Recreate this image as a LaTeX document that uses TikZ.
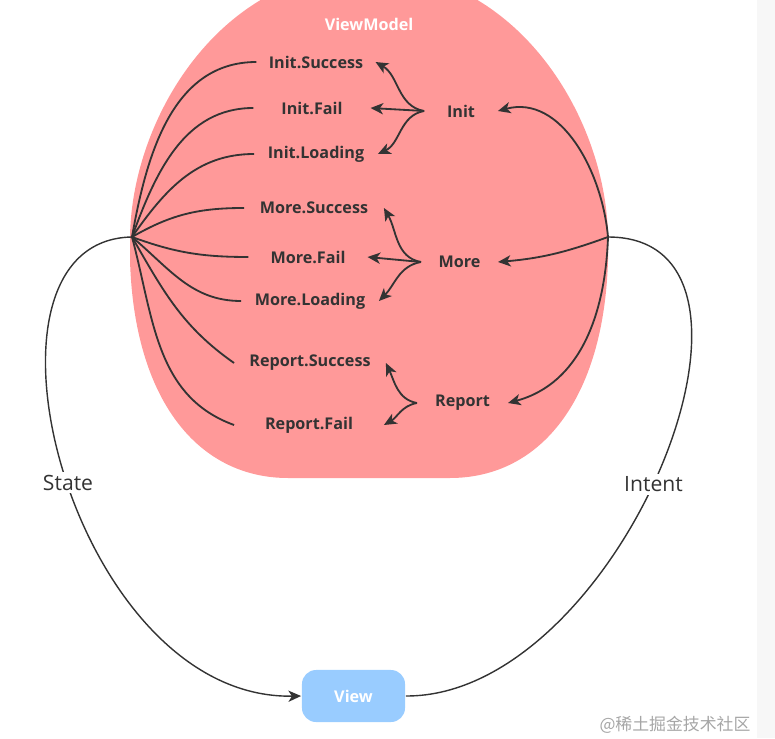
\documentclass[tikz,border=0pt]{standalone}
\usepackage{fontspec}
\setmainfont{Open Sans}
\newfontfamily\cjk{Noto Sans CJK SC}
\usetikzlibrary{arrows.meta}
\definecolor{cpink}{HTML}{FF9999}
\definecolor{cblue}{HTML}{99CCFF}
\definecolor{cline}{HTML}{333333}
\tikzset{
  every picture/.style={x=0.025cm, y=0.025cm, line width=1.3pt},
  evt/.style={minimum width=#1, inner sep=0pt, text=cline, font=\fontsize{11.5}{13}\selectfont\bfseries},
  op/.style={minimum width=#1, inner sep=0pt, text=cline, font=\fontsize{11.5}{13}\selectfont\bfseries},
  box/.style={fill=cblue, rounded corners=10pt, minimum width=2.575cm, minimum height=1.3cm, text=white, font=\fontsize{11.5}{13}\selectfont\bfseries},
  flow/.style={draw=cline},
  fire/.style={draw=cline, -{Stealth[length=9pt, width=8pt, inset=2.5pt]}},
  tag/.style={fill=white, inner sep=2pt, text=cline, font=\fontsize{15}{17}\selectfont},
}
\begin{document}
\begin{tikzpicture}
  \useasboundingbox (0,0) rectangle (775,738);
  \fill[gray!6] (757,0) rectangle (775,738);
  % view model body
  \begin{scope}
    \clip (0,0) rectangle (775,738);
    \fill[cpink] (130,498) .. controls (130,618) and (220,768) .. (369,768)
      .. controls (518,768) and (608,618) .. (608,498) -- (608,478)
      .. controls (604,338) and (540,260) .. (450,260) -- (288,260)
      .. controls (198,260) and (134,338) .. (130,478) -- cycle;
  \end{scope}
  \node[text=white, font=\fontsize{11.5}{13}\selectfont\bfseries] (vmtitle) at (369,714) {ViewModel};

  \node[evt=2.93cm] (isucc) at (316,676) {Init.Success};
  \node[evt=2.88cm] (ifail) at (312,630) {Init.Fail};
  \node[evt=3.05cm] (iload) at (316,584) {Init.Loading};
  \node[evt=3.45cm] (msucc) at (314,530) {More.Success};
  \node[evt=2.93cm] (mfail) at (308,481) {More.Fail};
  \node[evt=3.4cm] (mload) at (310,437) {More.Loading};
  \node[evt=3.75cm] (rsucc) at (310,375) {Report.Success};
  \node[evt=3.7cm] (rfail) at (309,313) {Report.Fail};

  \node[op=1.8cm] (init) at (461,627) {Init};
  \node[op=1.88cm] (more) at (459.5,476) {More};
  \node[op=2.23cm] (report) at (462.5,335) {Report};

  \node[box] (view) at (353.5,42) {View};
  \coordinate (fan) at (132,501);
  \coordinate (hub) at (608,501);

  % state side
  \draw[flow] (fan) to[out=80, in=180] (isucc.west);
  \draw[flow] (fan) to[out=70, in=180] (ifail.west);
  \draw[flow] (fan) to[out=55, in=180] (iload.west);
  \draw[flow] (fan) to[out=30, in=180] (msucc.west);
  \draw[flow] (fan) to[out=-20, in=180] (mfail.west);
  \draw[flow] (fan) to[out=-40, in=180] (mload.west);
  \draw[flow] (fan) to[out=-60, in=145] (rsucc.west);
  \draw[flow] (fan) to[out=-75, in=160] (rfail.west);

  % intent side
  \draw[fire] (hub) to[out=95, in=15] (init.east);
  \draw[fire] (hub) to[out=200, in=5] (more.east);
  \draw[fire] (hub) to[out=-92, in=15] (report.east);

  \draw[fire] (init.west) to[out=170, in=-30] (isucc.east);
  \draw[fire] (init.west) -- (ifail.east);
  \draw[fire] (init.west) to[out=190, in=25] (iload.east);
  \draw[fire] (more.west) to[out=170, in=-60] (msucc.east);
  \draw[fire] (more.west) -- (mfail.east);
  \draw[fire] (more.west) to[out=190, in=45] (mload.east);
  \draw[fire] (report.west) to[out=170, in=-65] (rsucc.east);
  \draw[fire] (report.west) to[out=190, in=30] (rfail.east);

  % loop through the view
  \draw[fire, line width=1pt] (fan) .. controls (-45,498) and (70,38) .. node[tag, pos=0.52] (state) {State} (view.west);
  \draw[flow, line width=1pt] (view.east) .. controls (620,41) and (805,501) .. node[tag, pos=0.475] (intent) {Intent} (hub);

  \node[text=black!35, font=\cjk\fontsize{12}{14}\selectfont] (mark) at (675,13) {@稀土掘金技术社区};
\end{tikzpicture}
\end{document}
